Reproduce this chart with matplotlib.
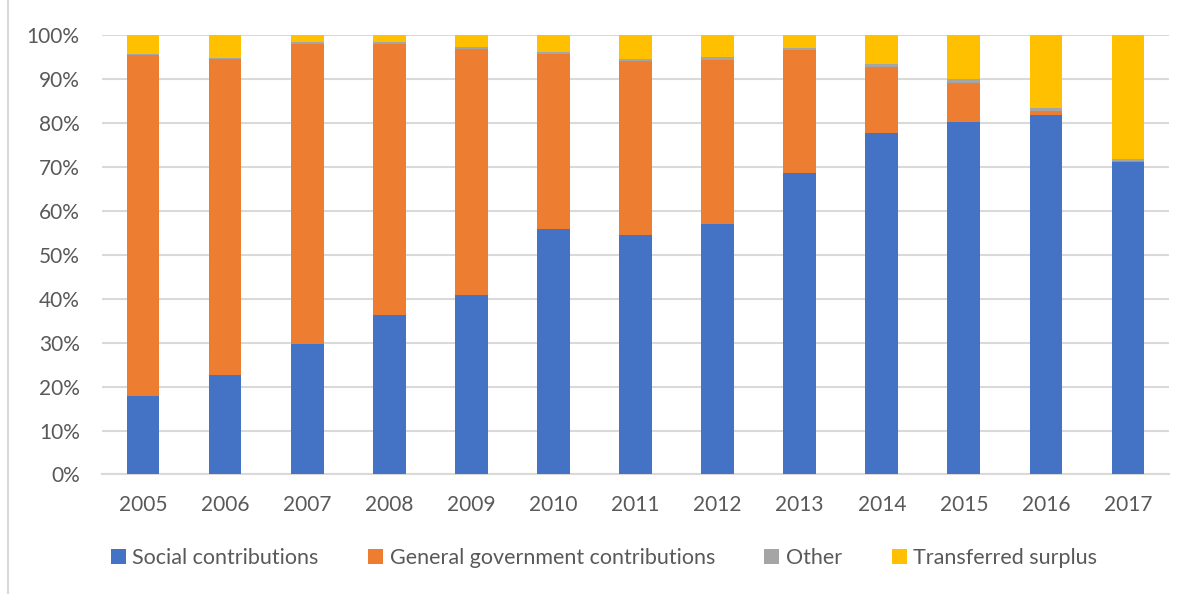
import matplotlib
matplotlib.use("Agg")
import matplotlib.pyplot as plt
from matplotlib.lines import Line2D
from matplotlib.ticker import PercentFormatter
import numpy as np

years = ["2005", "2006", "2007", "2008", "2009", "2010", "2011",
         "2012", "2013", "2014", "2015", "2016", "2017"]
social = [17.9, 22.6, 29.6, 36.4, 40.9, 55.9, 54.4, 57.0, 68.7, 77.6, 80.3, 81.7, 71.2]
general = [77.6, 71.9, 68.4, 61.5, 55.9, 39.7, 39.6, 37.4, 27.8, 15.2, 8.9, 1.1, 0.1]
other = [0.3, 0.3, 0.4, 0.5, 0.4, 0.5, 0.6, 0.6, 0.5, 0.6, 0.7, 0.6, 0.5]
transferred = [4.2, 5.2, 1.6, 1.6, 2.8, 3.9, 5.4, 5.0, 3.0, 6.6, 10.1, 16.6, 28.2]

series = [
    ("Social contributions", social, "#4472C4"),
    ("General government contributions", general, "#ED7D31"),
    ("Other", other, "#A5A5A5"),
    ("Transferred surplus", transferred, "#FFC000"),
]

plt.rcParams['font.family'] = ['Lato', 'DejaVu Sans']
txt = "#595959"
grid = "#D9D9D9"

fig = plt.figure(figsize=(11.91, 5.94), dpi=100)
ax = fig.add_axes([0.0856, 0.2012, 0.896, 0.7398])

x = np.arange(len(years))
bottom = np.zeros(len(years))
for name, vals, col in series:
    ax.bar(x, vals, 0.4, bottom=bottom, color=col, label=name, zorder=3)
    bottom += np.array(vals)

ax.set_xlim(-0.5, len(years) - 0.5)
ax.set_ylim(0, 100)
ax.set_yticks(np.arange(0, 101, 10))
ax.yaxis.set_major_formatter(PercentFormatter(decimals=0))
ax.set_xticks(x)
ax.set_xticklabels(years)
ax.grid(axis="y", color=grid, lw=1.5, zorder=0)
for s in ["top", "right", "left"]:
    ax.spines[s].set_visible(False)
ax.spines["bottom"].set_color(grid)
ax.spines["bottom"].set_linewidth(1.5)
ax.tick_params(axis="both", length=0, labelsize=15, colors=txt)
ax.tick_params(axis="y", pad=16)
ax.tick_params(axis="x", pad=15)

leg = fig.legend(loc="center", bbox_to_anchor=(0.507, 0.06), ncol=4, frameon=False,
                 fontsize=15.5, handlelength=0.7, handleheight=0.7,
                 handletextpad=0.3, columnspacing=2.3)
for t in leg.get_texts():
    t.set_color(txt)

fig.add_artist(Line2D([8 / 1191, 8 / 1191], [0, 1], color=grid, lw=1.5))

fig.savefig("out.png", dpi=100)
